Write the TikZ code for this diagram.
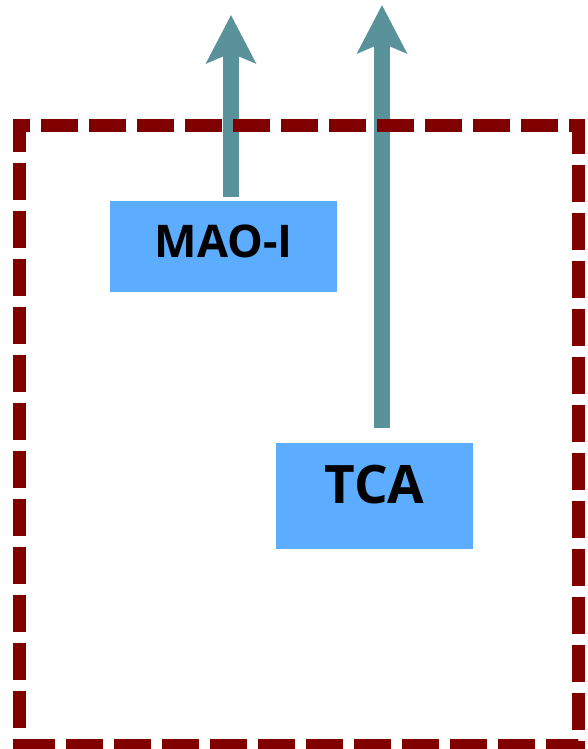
\documentclass[tikz,border=0pt]{standalone}
\usepackage{fontspec}
\setmainfont{Open Sans}
\usetikzlibrary{arrows.meta}
\definecolor{boxblue}{RGB}{92,172,255}
\definecolor{arrowteal}{RGB}{90,146,155}
\definecolor{framered}{RGB}{128,0,0}
\tikzset{
  box/.style={fill=boxblue, draw=none, inner sep=0pt, font=\bfseries},
  uparrow/.style={draw=arrowteal, line width=16pt,
    -{Stealth[length=48pt, width=49pt, inset=10pt, fill=arrowteal]}},
  frame/.style={draw=framered, line width=13pt, dash pattern=on 37pt off 11pt}
}
\begin{document}
\begin{tikzpicture}[x=1pt, y=-1pt]
\useasboundingbox (0,0) rectangle (588,749);
% boxes
\node[box, minimum width=227pt, minimum height=91pt, text depth=11pt,
      font=\bfseries\fontsize{45}{54}\selectfont] (mao) at (223.5,246.5) {MAO-I};
\node[box, minimum width=197pt, minimum height=106pt, text depth=24pt,
      font=\bfseries\fontsize{53}{64}\selectfont] (tca) at (374.5,496) {TCA};
% arrow tips
\coordinate (t1) at (231,15);
\coordinate (t2) at (382,5);
\draw[uparrow] (mao.north -| t1) ++(0,-4) -- (t1);
\draw[uparrow] (tca.north -| t2) ++(0,-15) -- (t2);
% dashed frame
\coordinate (tl) at (19.5,125.5);
\coordinate (tr) at (578,125.5);
\coordinate (br) at (578,745);
\coordinate (bl) at (19.5,745);
\draw[frame, dash phase=26.5pt] (tl) -- (tr) -- (br) -- (bl);
\draw[frame, dash phase=4pt] ([yshift=6.5pt]tl) -- ([yshift=-6.5pt]bl);
\end{tikzpicture}
\end{document}
